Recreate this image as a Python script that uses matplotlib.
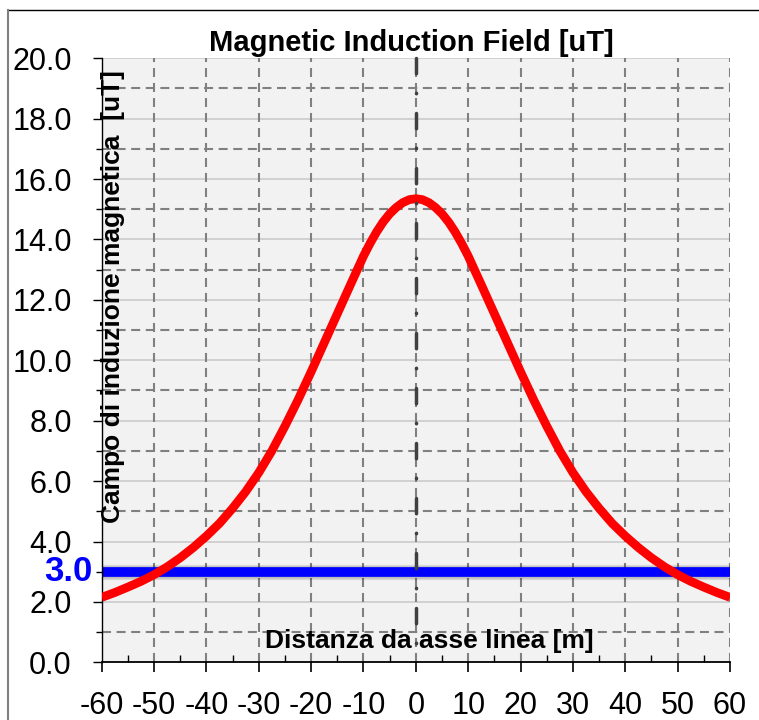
import matplotlib
matplotlib.use("Agg")
import matplotlib.pyplot as plt
from matplotlib.lines import Line2D
from matplotlib.ticker import MultipleLocator, FormatStrFormatter

plt.rcParams['font.family'] = ['Liberation Sans', 'DejaVu Sans']
plt.rcParams['lines.scale_dashes'] = False
plt.rcParams['axes.unicode_minus'] = False

# distance from line axis [m] and field values [uT]
distance = [-60, -57.5, -55, -52.5, -50, -47.5, -45, -42.5, -40, -37.5, -35, -32.5,
            -30, -27.5, -25, -22.5, -20, -17.5, -15, -12.5, -10, -8.75, -7.5, -6.25,
            -5, -3.75, -2.5, -1.25, 0, 1.25, 2.5, 3.75, 5, 6.25, 7.5, 8.75,
            10, 12.5, 15, 17.5, 20, 22.5, 25, 27.5,
            30, 32.5, 35, 37.5, 40, 42.5, 45, 47.5, 50, 52.5, 55, 57.5, 60]
field = [2.15, 2.31, 2.49, 2.68, 2.90, 3.16, 3.46, 3.80, 4.18, 4.60, 5.10, 5.65,
         6.28, 7.00, 7.82, 8.69, 9.62, 10.58, 11.54, 12.50, 13.45, 13.87, 14.25, 14.58,
         14.85, 15.06, 15.22, 15.32, 15.35, 15.32, 15.22, 15.06, 14.85, 14.58, 14.25, 13.87,
         13.45, 12.50, 11.54, 10.58, 9.62, 8.69, 7.82, 7.00,
         6.28, 5.65, 5.10, 4.60, 4.18, 3.80, 3.46, 3.16, 2.90, 2.68, 2.49, 2.31, 2.15]
limit = 3.0
axis_x = [0, 0]
axis_y = [20, 0]

W, H = 759, 720
fig = plt.figure(figsize=(W / 100, H / 100), dpi=100)
ax = fig.add_axes([101.7 / W, 1 - 662.3 / H, 628.3 / W, 604 / H])
ax.set_facecolor('#f2f2f2')

ax.set_xlim(-60, 60)
ax.set_ylim(0, 20)

# grid
for v in range(2, 21, 2):
    ax.axhline(v, color='#c8c8c8', lw=1.1, zorder=0.5)
for v in range(1, 20, 2):
    ax.axhline(v, color='#808080', lw=1.5, dashes=(6.5, 4), zorder=0.6)
for v in range(-50, 61, 10):
    ax.axvline(v, color='#808080', lw=1.5, dashes=(6.5, 4.3), zorder=0.6)

# blue limit line with soft shadow
ax.axhline(limit, color='#000000', lw=11, alpha=0.10, zorder=2)
ax.axhline(limit, color='#000000', lw=9, alpha=0.12, zorder=2)
ax.axhline(limit, color='#0000ff', lw=7, zorder=2.5)

ax.plot(distance, field, color='#ff0000', lw=6.3, solid_capstyle='butt',
        solid_joinstyle='round', zorder=3)

ax.plot(axis_x, axis_y, color='#404040', lw=2.5, dashes=(11, 14, 0.4, 14.2),
        dash_capstyle='round', zorder=4, clip_on=False)

ax.spines['top'].set_visible(False)
ax.spines['right'].set_visible(False)
ax.spines['left'].set_linewidth(1.0)
ax.spines['bottom'].set_linewidth(1.3)

ax.xaxis.set_major_locator(MultipleLocator(10))
ax.xaxis.set_minor_locator(MultipleLocator(5))
ax.yaxis.set_major_locator(MultipleLocator(2))
ax.yaxis.set_minor_locator(MultipleLocator(1))
ax.yaxis.set_major_formatter(FormatStrFormatter('%.1f'))

ax.tick_params(axis='x', which='major', direction='out', length=7, width=1.2,
               labelsize=22, pad=13.5)
ax.tick_params(axis='x', which='minor', direction='in', length=5, width=1.0)
ax.tick_params(axis='y', which='major', direction='out', length=6.5, width=1.0,
               labelsize=22, pad=15)
ax.tick_params(axis='y', which='minor', direction='out', length=4.5, width=1.0)

ax.text(-9.7 / 628.3, limit, '3.0', transform=ax.get_yaxis_transform(),
        ha='right', va='center', color='#0000ff', fontsize=25, fontweight='bold')

fig.text(411.5 / W, 1 - 51 / H, 'Magnetic Induction Field [uT]', ha='center',
         va='baseline', fontsize=21, fontweight='bold')
fig.text(120 / W, 1 - 296.5 / H, 'Campo di induzione magnetica  [uT]', ha='center',
         va='baseline', rotation=90, rotation_mode='anchor', fontsize=19,
         fontweight='bold')
fig.text(429 / W, 1 - 648 / H, 'Distanza da asse linea [m]', ha='center',
         va='baseline', fontsize=19, fontweight='bold')

# outer frame
fig.add_artist(Line2D([8 / W, 1], [1 - 10 / H, 1 - 10 / H], color='black', lw=1.0,
                      transform=fig.transFigure))
fig.add_artist(Line2D([8 / W, 8 / W], [0, 1 - 10 / H], color='#808080', lw=1.5,
                      transform=fig.transFigure))

fig.savefig('out.png', dpi=100)
